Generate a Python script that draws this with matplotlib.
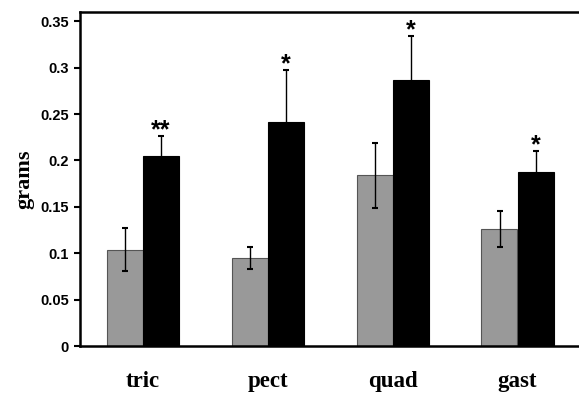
import matplotlib
matplotlib.use("Agg")
import matplotlib.pyplot as plt
import numpy as np

categories = ["tric", "pect", "quad", "gast"]
control = [0.104, 0.095, 0.184, 0.126]
control_err = [0.023, 0.012, 0.035, 0.019]
treated = [0.205, 0.241, 0.287, 0.188]
treated_err = [0.021, 0.056, 0.047, 0.022]
stars = ["**", "*", "*", "*"]
yticks = [0, 0.05, 0.1, 0.15, 0.2, 0.25, 0.3, 0.35]
ytick_labels = ["0", "0.05", "0.1", "0.15", "0.2", "0.25", "0.3", "0.35"]

fig = plt.figure(figsize=(5.79, 3.93), dpi=100)
ax = fig.add_axes([80/579, 1-346/393, 500/579, (346-12)/393])

x = np.arange(len(categories))
w = 0.288
ax.bar(x - w/2, control, w, color="#999999", edgecolor="#555555", linewidth=0.8, zorder=2)
ax.bar(x + w/2, treated, w, color="black", edgecolor="black", linewidth=0.8, zorder=2)
ax.errorbar(x - w/2, control, yerr=control_err, fmt="none", ecolor="black",
            elinewidth=1.0, capsize=2.5, capthick=1.5, zorder=3)
ax.errorbar(x + w/2, treated, yerr=treated_err, fmt="none", ecolor="black",
            elinewidth=1.0, capsize=2.5, capthick=1.5, zorder=1)

for xi, v, e, s in zip(x, treated, treated_err, stars):
    ax.text(xi + w/2, v + e - 0.001, s, ha="center", va="baseline",
            fontsize=18, fontweight="bold", family="Liberation Sans")

ax.set_xlim(-0.5, 3.5)
ax.set_ylim(0, 0.36)
ax.set_yticks(yticks)
ax.set_yticklabels(ytick_labels, fontsize=10.5, fontweight="bold", family="Liberation Sans")
ax.set_xticks(x)
ax.set_xticklabels(categories, fontsize=16.5, fontweight="bold", family="Liberation Serif")
ax.tick_params(axis="x", length=0, pad=18)
ax.tick_params(axis="y", length=4, width=1.5, direction="out", pad=4)
ax.set_ylabel("grams", fontsize=16, fontweight="bold", family="Liberation Serif", labelpad=4)

for side in ["left", "top", "bottom"]:
    ax.spines[side].set_linewidth(1.8)
ax.spines["right"].set_linewidth(0.8)
ax.spines["right"].set_color("#cccccc")

fig.savefig("out.png", dpi=100)
